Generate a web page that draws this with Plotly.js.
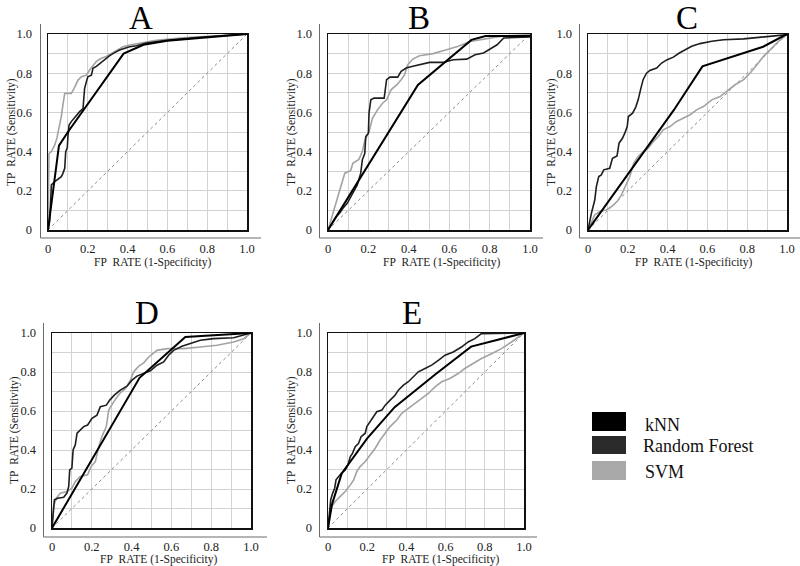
<!DOCTYPE html>
<html>
<head>
<meta charset="utf-8">
<script src="https://cdn.plot.ly/plotly-3.0.1.min.js"></script>
<style>
html,body{margin:0;padding:0;background:#ffffff;}
#chart{width:800px;height:566px;}
</style>
</head>
<body>
<div id="chart"></div>
<script>
// ---------------- DATA ----------------
const panelNames = ['A', 'B', 'C', 'D', 'E'];
const seriesNames = ['kNN', 'Random Forest', 'SVM'];
const tickVals = [0, 0.2, 0.4, 0.6, 0.8, 1.0];
const tickText = ['0', '0.2', '0.4', '0.6', '0.8', '1.0'];
const chanceX = [0, 1];
const chanceY = [0, 1];
const xTitleText = 'FP\u00a0 RATE (1-Specificity)';
const yTitleText = 'TP\u00a0 RATE (Sensitivity)';

// Panel A
const knnA_x = [0, 0.055, 0.1, 0.38, 0.48, 0.6, 1];
const knnA_y = [0, 0.43, 0.5, 0.9, 0.945, 0.965, 1];
const rfA_x = [0, 0.008, 0.012, 0.017, 0.034, 0.05, 0.067, 0.075, 0.084, 0.089, 0.097, 0.1, 0.106, 0.117, 0.142, 0.159, 0.176, 0.184, 0.193, 0.2, 0.218, 0.226, 0.243, 0.26, 0.293, 0.31, 0.335, 0.36, 0.394, 0.41, 0.444, 0.494, 0.595, 0.762, 1];
const rfA_y = [0, 0.043, 0.12, 0.23, 0.247, 0.26, 0.272, 0.289, 0.315, 0.4, 0.42, 0.476, 0.536, 0.553, 0.587, 0.604, 0.62, 0.723, 0.757, 0.782, 0.79, 0.825, 0.835, 0.85, 0.876, 0.89, 0.905, 0.918, 0.93, 0.935, 0.94, 0.954, 0.968, 0.983, 1];
const svmA_x = [0, 0.003, 0.005, 0.017, 0.034, 0.045, 0.059, 0.067, 0.075, 0.084, 0.117, 0.13, 0.151, 0.168, 0.193, 0.209, 0.243, 0.268, 0.293, 0.318, 0.343, 0.377, 0.41, 0.46, 0.544, 0.678, 1];
const svmA_y = [0, 0.2, 0.39, 0.4, 0.434, 0.47, 0.536, 0.58, 0.638, 0.697, 0.697, 0.72, 0.765, 0.782, 0.79, 0.816, 0.86, 0.876, 0.885, 0.9, 0.918, 0.935, 0.944, 0.954, 0.968, 0.98, 1];

// Panel B
const knnB_x = [0, 0.445, 0.71, 0.78, 1];
const knnB_y = [0, 0.74, 0.97, 0.99, 0.99];
const rfB_x = [0, 0.02, 0.04, 0.057, 0.073, 0.095, 0.112, 0.128, 0.145, 0.162, 0.17, 0.182, 0.187, 0.2, 0.203, 0.212, 0.228, 0.278, 0.29, 0.307, 0.345, 0.362, 0.387, 0.42, 0.453, 0.503, 0.57, 0.62, 0.687, 0.728, 0.77, 0.803, 0.837, 0.87, 1];
const rfB_y = [0, 0.037, 0.068, 0.085, 0.11, 0.136, 0.17, 0.204, 0.23, 0.29, 0.358, 0.39, 0.477, 0.494, 0.596, 0.664, 0.673, 0.673, 0.767, 0.78, 0.78, 0.81, 0.826, 0.835, 0.843, 0.855, 0.855, 0.869, 0.872, 0.894, 0.903, 0.923, 0.945, 0.98, 0.985];
const svmB_x = [0, 0.07, 0.083, 0.112, 0.123, 0.153, 0.17, 0.183, 0.203, 0.22, 0.245, 0.27, 0.29, 0.312, 0.34, 0.362, 0.378, 0.395, 0.42, 0.453, 0.52, 0.587, 0.645, 0.703, 0.77, 0.853, 1];
const svmB_y = [0, 0.24, 0.29, 0.303, 0.34, 0.36, 0.4, 0.46, 0.5, 0.57, 0.613, 0.647, 0.664, 0.715, 0.74, 0.767, 0.79, 0.843, 0.872, 0.889, 0.9, 0.92, 0.937, 0.962, 0.974, 0.988, 0.997];

// Panel C
const knnC_x = [0, 0.43, 0.575, 0.88, 1];
const knnC_y = [0, 0.61, 0.835, 0.935, 1];
const rfC_x = [0, 0.008, 0.017, 0.034, 0.042, 0.054, 0.067, 0.079, 0.109, 0.123, 0.146, 0.156, 0.173, 0.185, 0.197, 0.203, 0.224, 0.24, 0.252, 0.266, 0.277, 0.294, 0.311, 0.345, 0.37, 0.398, 0.429, 0.459, 0.487, 0.521, 0.563, 0.622, 0.681, 0.782, 1];
const rfC_y = [0, 0.051, 0.085, 0.153, 0.221, 0.273, 0.281, 0.307, 0.315, 0.366, 0.378, 0.443, 0.468, 0.494, 0.528, 0.579, 0.596, 0.627, 0.664, 0.724, 0.767, 0.8, 0.814, 0.826, 0.852, 0.869, 0.882, 0.903, 0.92, 0.937, 0.951, 0.963, 0.971, 0.975, 0.997];
const svmC_x = [0, 0.034, 0.059, 0.092, 0.123, 0.146, 0.168, 0.185, 0.21, 0.23, 0.252, 0.277, 0.303, 0.328, 0.353, 0.378, 0.412, 0.445, 0.479, 0.513, 0.546, 0.58, 0.622, 0.664, 0.706, 0.739, 0.782, 0.815, 0.849, 0.882, 0.916, 0.958, 1];
const svmC_y = [0, 0.077, 0.094, 0.102, 0.123, 0.145, 0.179, 0.221, 0.273, 0.341, 0.375, 0.4, 0.417, 0.451, 0.477, 0.511, 0.528, 0.554, 0.571, 0.588, 0.613, 0.63, 0.664, 0.681, 0.715, 0.741, 0.767, 0.801, 0.843, 0.886, 0.92, 0.963, 0.997];

// Panel D
const knnD_x = [0, 0.44, 0.67, 1];
const knnD_y = [0, 0.77, 0.98, 1];
const rfD_x = [0, 0.005, 0.012, 0.028, 0.059, 0.075, 0.084, 0.089, 0.1, 0.106, 0.117, 0.126, 0.142, 0.159, 0.179, 0.201, 0.226, 0.243, 0.273, 0.29, 0.313, 0.343, 0.377, 0.402, 0.427, 0.461, 0.494, 0.528, 0.561, 0.586, 0.611, 0.653, 0.695, 0.745, 0.812, 0.913, 1];
const rfD_y = [0, 0.06, 0.145, 0.153, 0.158, 0.179, 0.213, 0.298, 0.307, 0.4, 0.426, 0.486, 0.503, 0.52, 0.528, 0.562, 0.579, 0.622, 0.63, 0.656, 0.681, 0.707, 0.727, 0.758, 0.779, 0.792, 0.806, 0.835, 0.852, 0.886, 0.911, 0.932, 0.945, 0.963, 0.971, 0.976, 1];
const svmD_x = [0, 0.008, 0.022, 0.042, 0.075, 0.1, 0.117, 0.142, 0.179, 0.196, 0.218, 0.235, 0.251, 0.273, 0.285, 0.31, 0.34, 0.369, 0.394, 0.41, 0.436, 0.461, 0.486, 0.528, 0.578, 0.662, 0.745, 0.829, 0.913, 0.963, 1];
const svmD_y = [0, 0.111, 0.153, 0.179, 0.187, 0.204, 0.238, 0.264, 0.273, 0.315, 0.341, 0.417, 0.469, 0.52, 0.605, 0.647, 0.69, 0.716, 0.758, 0.8, 0.83, 0.847, 0.877, 0.911, 0.92, 0.92, 0.928, 0.937, 0.954, 0.971, 1];

// Panel E
const knnE_x = [0, 0.02, 0.07, 0.2, 0.34, 0.55, 0.73, 1];
const knnE_y = [0, 0.12, 0.28, 0.46, 0.62, 0.79, 0.93, 1];
const rfE_x = [0, 0.007, 0.014, 0.024, 0.034, 0.041, 0.054, 0.068, 0.088, 0.102, 0.114, 0.125, 0.139, 0.156, 0.169, 0.19, 0.198, 0.215, 0.232, 0.249, 0.275, 0.292, 0.317, 0.342, 0.359, 0.385, 0.41, 0.436, 0.461, 0.495, 0.529, 0.563, 0.597, 0.639, 0.681, 0.715, 0.749, 0.783, 1];
const rfE_y = [0, 0.077, 0.145, 0.179, 0.204, 0.247, 0.264, 0.281, 0.298, 0.324, 0.366, 0.383, 0.417, 0.434, 0.468, 0.486, 0.52, 0.545, 0.571, 0.596, 0.605, 0.63, 0.656, 0.681, 0.707, 0.733, 0.75, 0.775, 0.801, 0.818, 0.835, 0.86, 0.886, 0.903, 0.928, 0.954, 0.971, 0.997, 1];
const svmE_x = [0, 0.008, 0.02, 0.037, 0.063, 0.088, 0.114, 0.131, 0.147, 0.164, 0.19, 0.215, 0.241, 0.266, 0.292, 0.317, 0.351, 0.376, 0.41, 0.444, 0.478, 0.512, 0.546, 0.58, 0.622, 0.664, 0.698, 0.741, 0.783, 0.834, 0.885, 0.936, 0.969, 1];
const svmE_y = [0, 0.06, 0.111, 0.136, 0.162, 0.187, 0.221, 0.247, 0.29, 0.315, 0.341, 0.375, 0.409, 0.451, 0.486, 0.52, 0.554, 0.588, 0.613, 0.639, 0.664, 0.69, 0.724, 0.75, 0.767, 0.792, 0.818, 0.843, 0.869, 0.894, 0.92, 0.954, 0.98, 1];

const panelData = {
  A: {kNN: [knnA_x, knnA_y], 'Random Forest': [rfA_x, rfA_y], SVM: [svmA_x, svmA_y]},
  B: {kNN: [knnB_x, knnB_y], 'Random Forest': [rfB_x, rfB_y], SVM: [svmB_x, svmB_y]},
  C: {kNN: [knnC_x, knnC_y], 'Random Forest': [rfC_x, rfC_y], SVM: [svmC_x, svmC_y]},
  D: {kNN: [knnD_x, knnD_y], 'Random Forest': [rfD_x, rfD_y], SVM: [svmD_x, svmD_y]},
  E: {kNN: [knnE_x, knnE_y], 'Random Forest': [rfE_x, rfE_y], SVM: [svmE_x, svmE_y]}
};

// ---------------- STYLE / LAYOUT ----------------
const W = 800, H = 566;
const SERIF = '"Liberation Serif", "Times New Roman", Times, "DejaVu Serif", serif';
const lineStyle = {
  kNN: {color: '#000000', width: 2},
  'Random Forest': {color: '#1e1e1e', width: 1.6},
  SVM: {color: '#a3a3a3', width: 1.6}
};
const swatchColor = {kNN: '#000000', 'Random Forest': '#2a2a2a', SVM: '#a8a8a8'};

// pixel frames of each panel (plot box + outer L axis + title position)
const frames = [
  {l: 48, r: 247, t: 34, b: 230, oL: 40.5, oB: 238, oT: 24, oR: 261, tx: 141, ty: 16, xtx: 152, xty: 262, ytx: 11, yty: 132},
  {l: 328, r: 530, t: 34, b: 230, oL: 319.5, oB: 238, oT: 24, oR: 543, tx: 419, ty: 16, xtx: 441, xty: 262, ytx: 291, yty: 132},
  {l: 588, r: 787, t: 34, b: 230, oL: 579.5, oB: 238, oT: 24, oR: 800, tx: 687, ty: 16, xtx: 693, xty: 262, ytx: 551, yty: 132},
  {l: 52, r: 251, t: 333, b: 528, oL: 43.5, oB: 537, oT: 323, oR: 267, tx: 147, ty: 311, xtx: 158, xty: 559, ytx: 14, yty: 430},
  {l: 328, r: 524, t: 333, b: 528, oL: 319.5, oB: 537, oT: 323, oR: 537, tx: 412, ty: 311, xtx: 440, xty: 559, ytx: 291, yty: 430}
];
const px = v => v / W;
const py = v => 1 - v / H;

const traces = [];
const layout = {
  width: W, height: H,
  margin: {l: 0, r: 0, t: 0, b: 0},
  paper_bgcolor: '#ffffff', plot_bgcolor: '#ffffff',
  showlegend: false,
  font: {family: SERIF},
  shapes: [], annotations: []
};

panelNames.forEach((name, i) => {
  const f = frames[i];
  const sfx = i === 0 ? '' : String(i + 1);
  const xa = 'x' + sfx, ya = 'y' + sfx;
  const gridCol = '#d2d2d2';
  layout['xaxis' + sfx] = {
    domain: [px(f.l), px(f.r)], anchor: ya, range: [0, 1], fixedrange: true,
    tickmode: 'array', tickvals: tickVals, ticktext: tickText,
    ticks: 'outside', ticklen: 6, tickcolor: 'rgba(0,0,0,0)',
    tickfont: {family: SERIF, size: 12.5, color: '#222'},
    showline: true, mirror: true, linecolor: '#111', linewidth: 1.5,
    showgrid: true, gridcolor: gridCol, gridwidth: 1, zeroline: false,
    minor: {tickmode: 'linear', tick0: 0, dtick: 0.1, showgrid: true, gridcolor: gridCol, gridwidth: 1, ticks: ''}
  };
  layout['yaxis' + sfx] = {
    domain: [py(f.b), py(f.t)], anchor: xa, range: [0, 1], fixedrange: true,
    tickmode: 'array', tickvals: tickVals, ticktext: tickText,
    ticks: 'outside', ticklen: 12, tickcolor: 'rgba(0,0,0,0)',
    tickfont: {family: SERIF, size: 12.5, color: '#222'},
    showline: true, mirror: true, linecolor: '#111', linewidth: 1.5,
    showgrid: true, gridcolor: gridCol, gridwidth: 1, zeroline: false,
    minor: {tickmode: 'linear', tick0: 0, dtick: 0.1, showgrid: true, gridcolor: gridCol, gridwidth: 1, ticks: ''}
  };

  // chance diagonal
  traces.push({x: chanceX, y: chanceY, xaxis: xa, yaxis: ya, mode: 'lines', hoverinfo: 'skip',
    line: {color: '#8a8a8a', width: 1, dash: 'dot'}});
  // series: SVM, RF, kNN (kNN on top)
  ['SVM', 'Random Forest', 'kNN'].forEach(s => {
    const d = panelData[name][s];
    traces.push({x: d[0], y: d[1], xaxis: xa, yaxis: ya, mode: 'lines', name: s,
      line: {color: lineStyle[s].color, width: lineStyle[s].width, shape: 'linear'}});
  });

  // outer L axis
  layout.shapes.push({type: 'line', xref: 'paper', yref: 'paper', x0: px(f.oL), x1: px(f.oL), y0: py(f.oT), y1: py(f.oB), line: {color: '#6a6a6a', width: 1}});
  layout.shapes.push({type: 'line', xref: 'paper', yref: 'paper', x0: px(f.oL), x1: px(f.oR), y0: py(f.oB), y1: py(f.oB), line: {color: '#6a6a6a', width: 1}});

  // panel letter
  layout.annotations.push({text: name, xref: 'paper', yref: 'paper', x: px(f.tx), y: py(f.ty - 18), xanchor: 'center', yanchor: 'top', showarrow: false,
    font: {family: SERIF, size: 33, color: '#000'}});
  // axis titles
  layout.annotations.push({text: xTitleText, xref: 'paper', yref: 'paper', x: px(f.xtx), y: py(f.xty), xanchor: 'center', yanchor: 'middle', showarrow: false,
    font: {family: SERIF, size: 11.5, color: '#222'}});
  layout.annotations.push({text: yTitleText, xref: 'paper', yref: 'paper', x: px(f.ytx), y: py(f.yty), xanchor: 'center', yanchor: 'middle', showarrow: false, textangle: -90,
    font: {family: SERIF, size: 11.5, color: '#222'}});
});

// legend (swatches + labels)
const legendRows = [{top: 412, bottom: 431, ty: 425, tx: 643}, {top: 436, bottom: 454, ty: 446, tx: 641}, {top: 461, bottom: 480, ty: 472, tx: 643}];
seriesNames.forEach((s, k) => {
  const r = legendRows[k];
  layout.shapes.push({type: 'rect', xref: 'paper', yref: 'paper', x0: px(592), x1: px(626), y0: py(r.bottom), y1: py(r.top),
    fillcolor: swatchColor[s], line: {width: 0}});
  layout.annotations.push({text: s, xref: 'paper', yref: 'paper', x: px(r.tx), y: py(r.ty), xanchor: 'left', yanchor: 'middle', showarrow: false,
    font: {family: SERIF, size: 18, color: '#111'}});
});

Plotly.newPlot('chart', traces, layout, {displayModeBar: false, staticPlot: true});
</script>
</body>
</html>
